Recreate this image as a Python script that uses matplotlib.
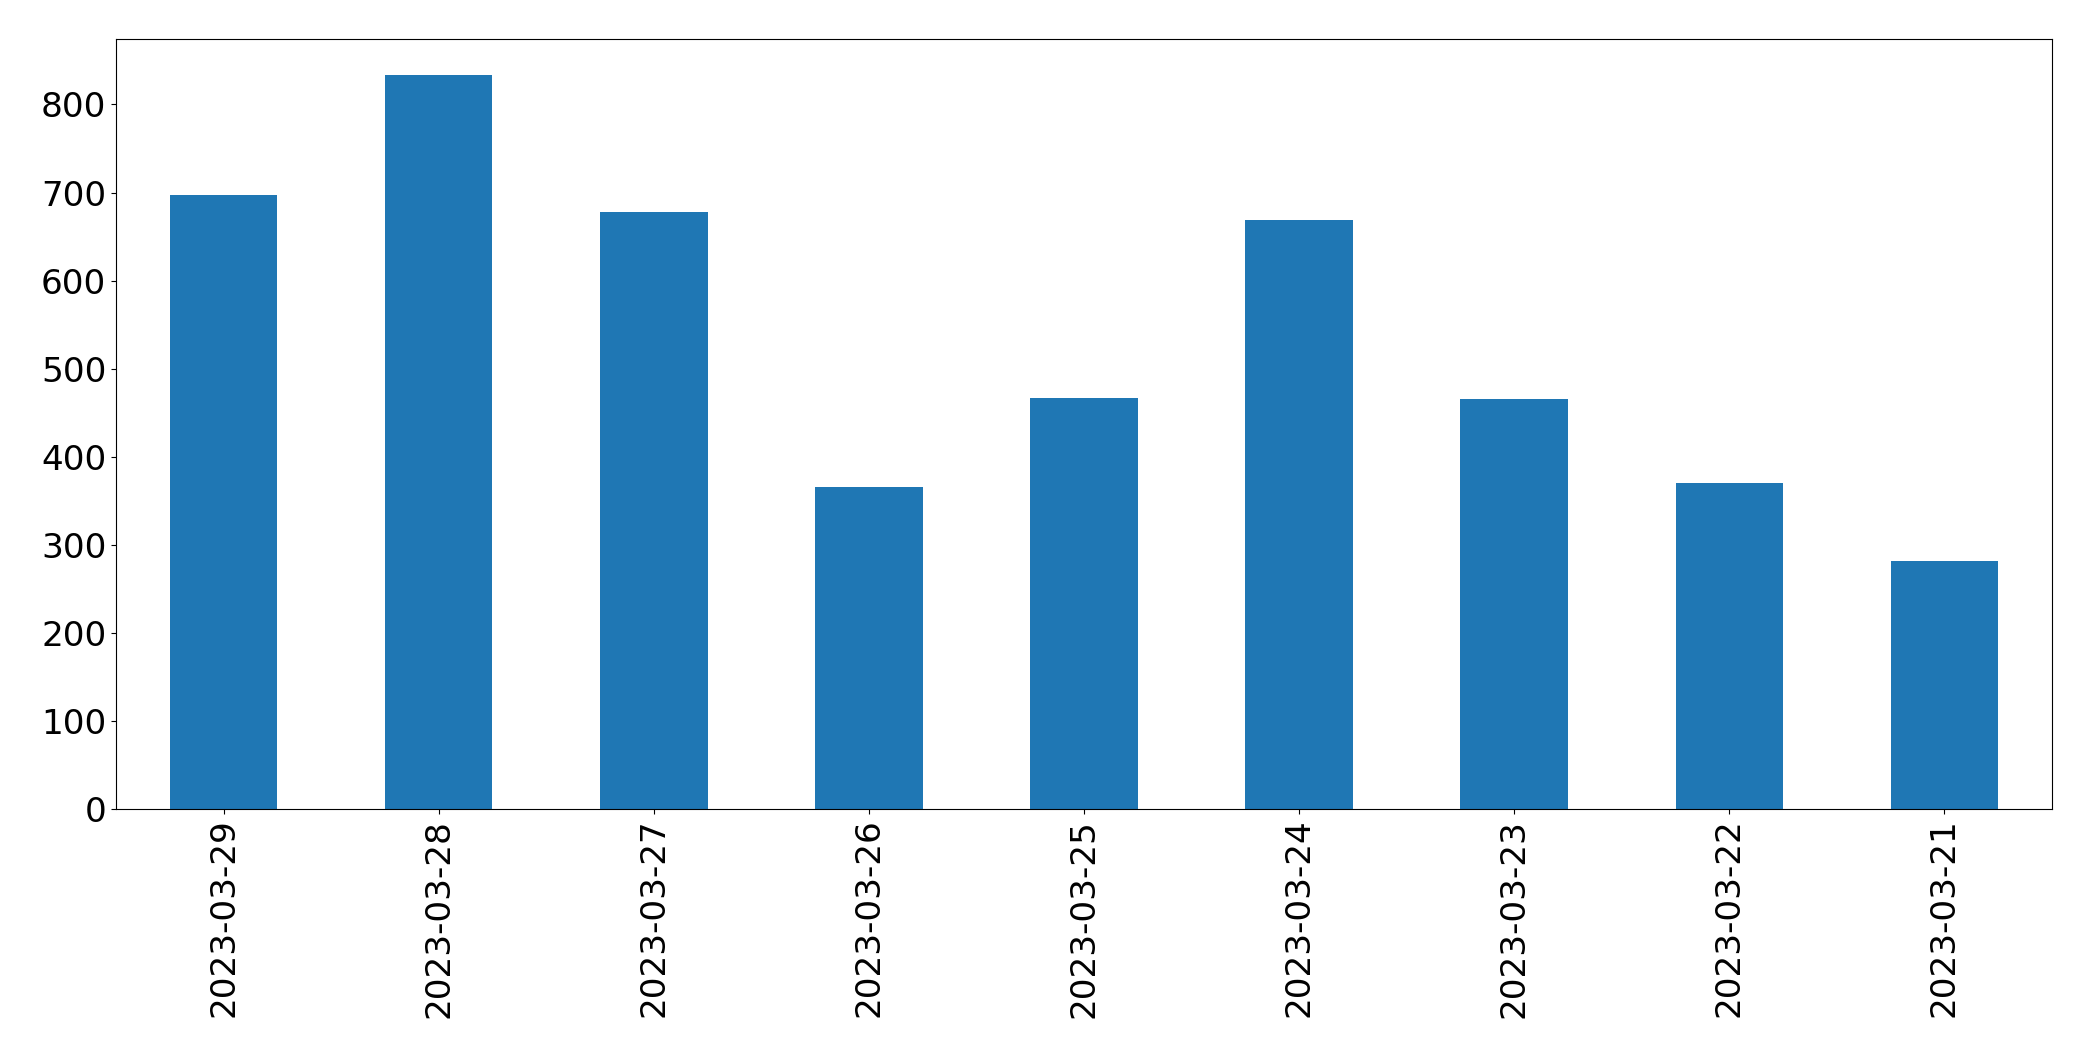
import matplotlib
matplotlib.use("Agg")
import matplotlib.pyplot as plt

dates = ["2023-03-29", "2023-03-28", "2023-03-27", "2023-03-26", "2023-03-25",
         "2023-03-24", "2023-03-23", "2023-03-22", "2023-03-21"]
counts = [697, 833, 678, 366, 467, 669, 466, 370, 282]

fig = plt.figure(figsize=(20.93, 10.61), dpi=100)
ax = fig.add_axes([116 / 2093, 1 - 809 / 1061, (2052 - 116) / 2093, (809 - 38.7) / 1061])

x = list(range(len(dates)))
ax.bar(x, counts, width=0.5, color="#1f77b4")
ax.set_xlim(-0.5, len(dates) - 0.5)
ax.set_xticks(x)
ax.set_xticklabels(dates, rotation=90)
ax.tick_params(axis="both", labelsize=24.7)

fig.savefig("out.png", dpi=100)
